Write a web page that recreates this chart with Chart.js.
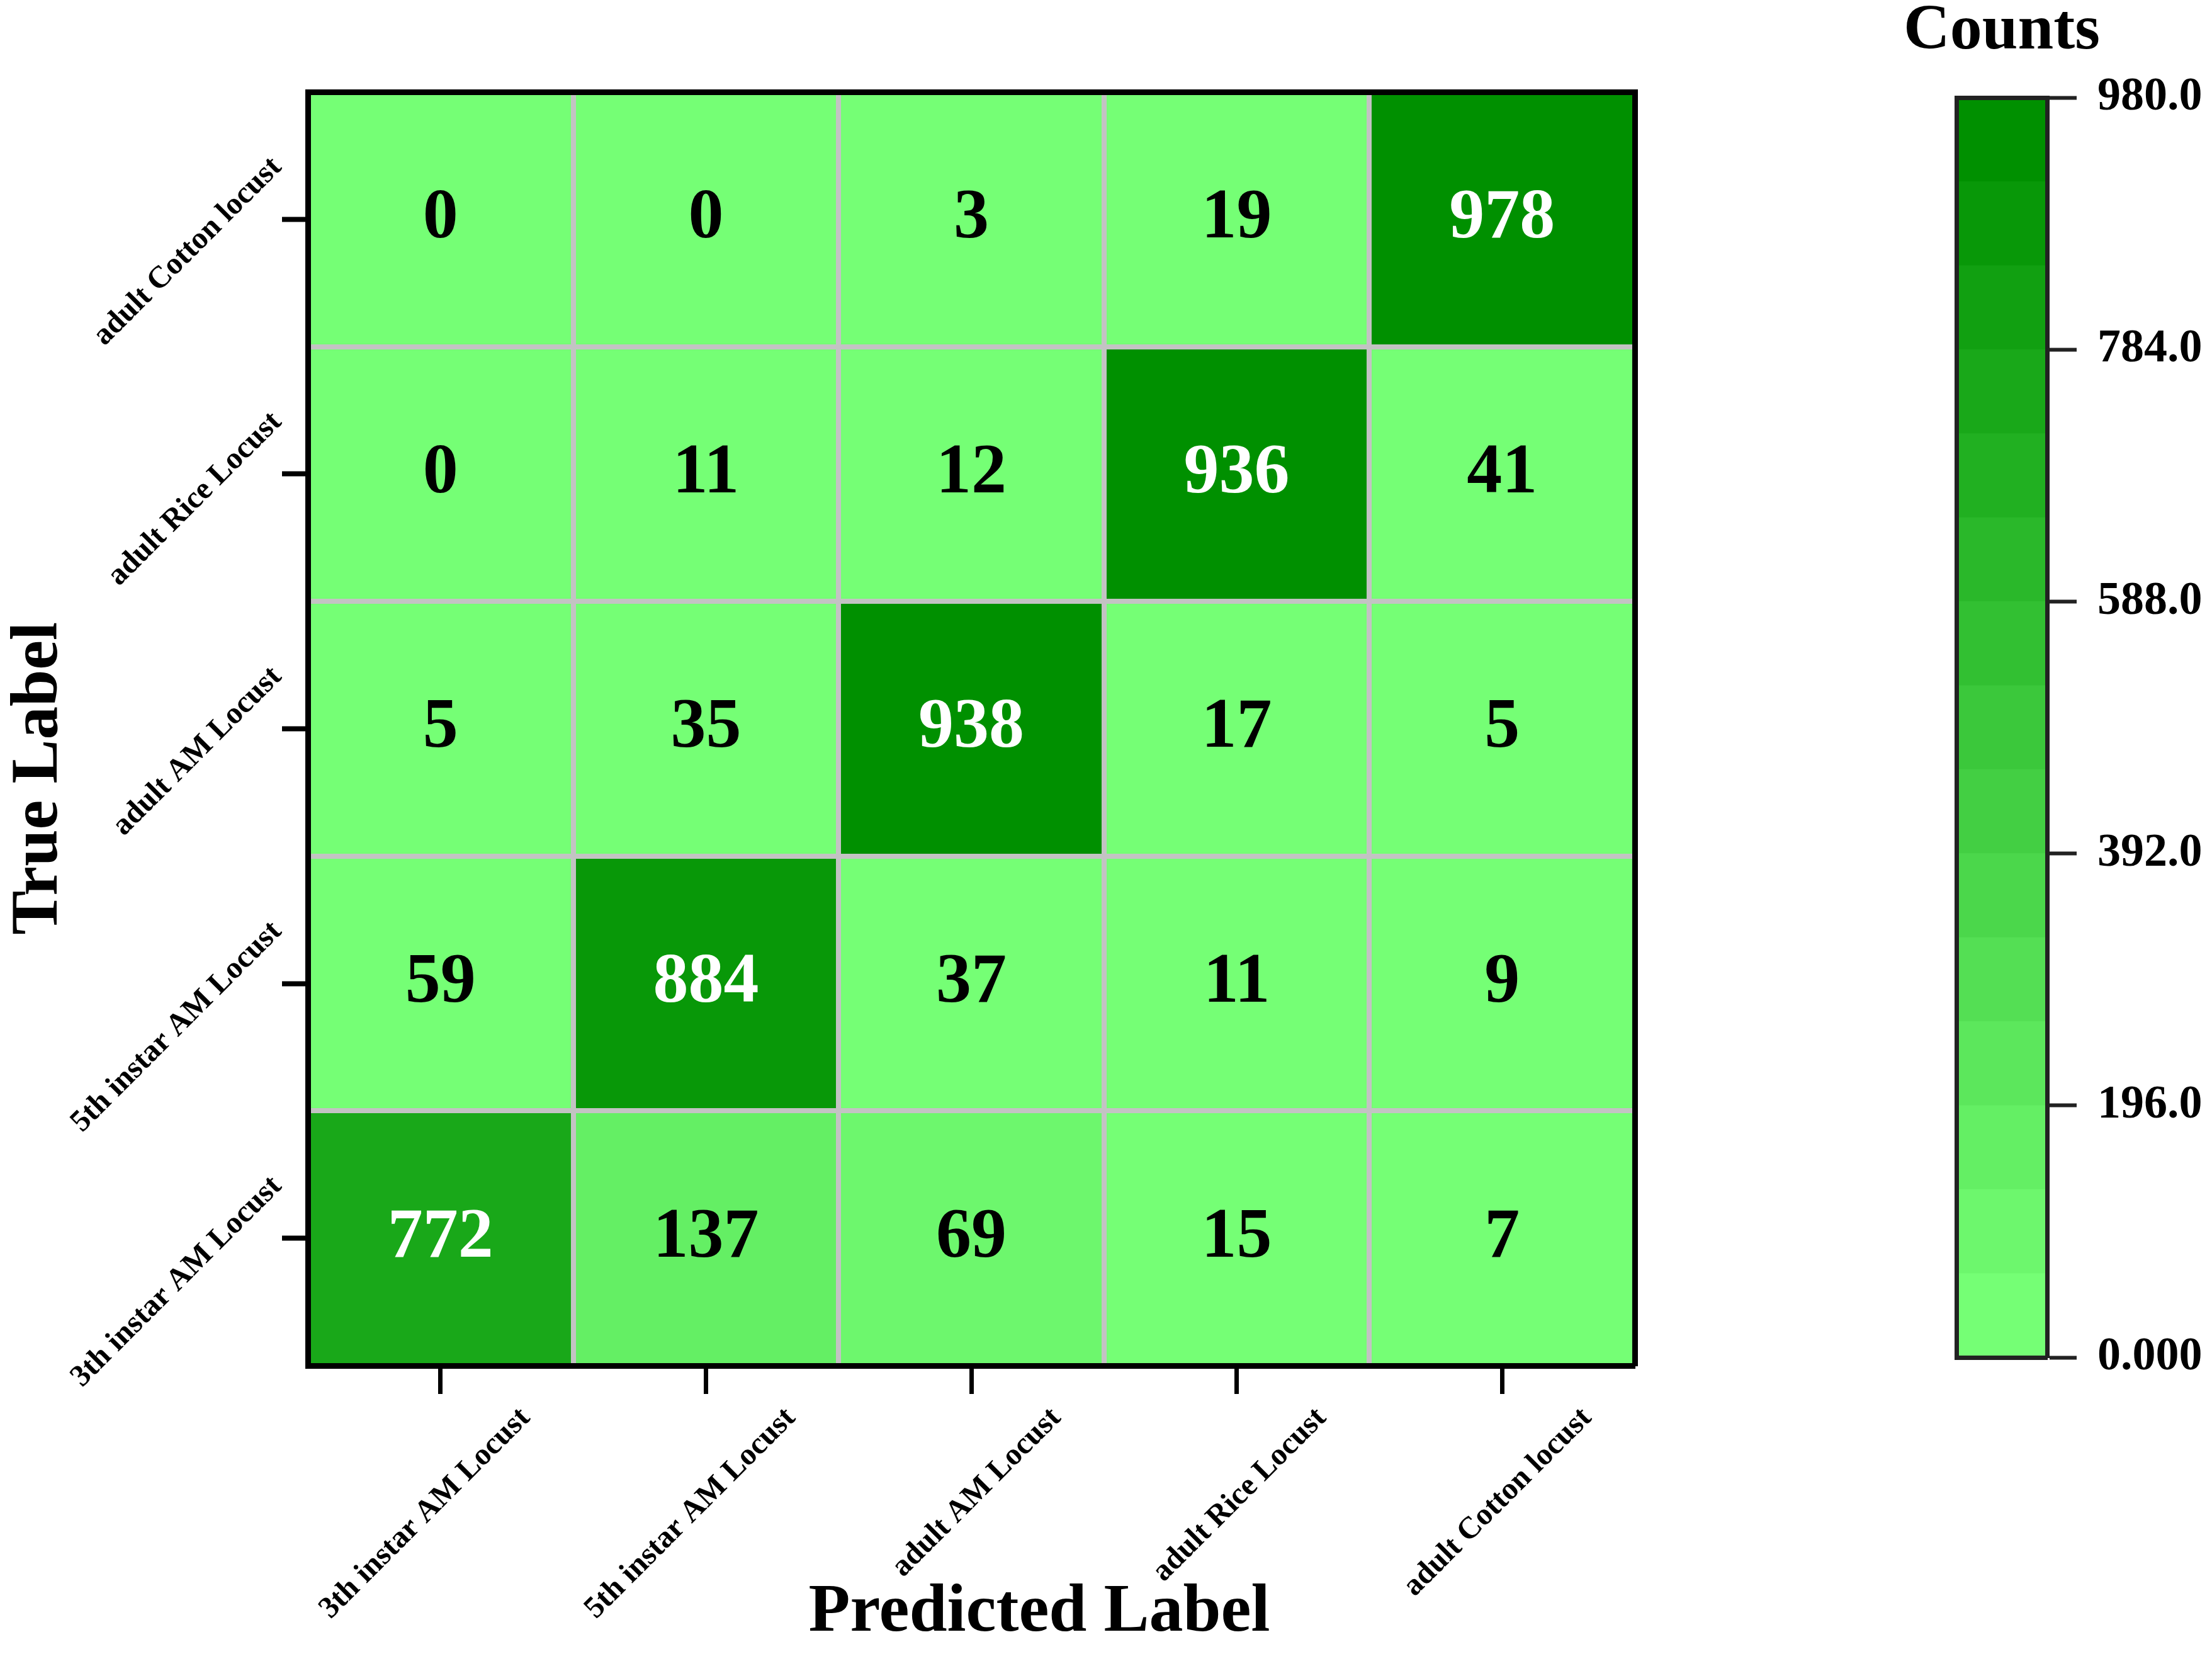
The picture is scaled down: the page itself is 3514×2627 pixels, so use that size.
<!DOCTYPE html>
<html>
<head>
<meta charset="utf-8">
<script src="https://cdn.jsdelivr.net/npm/chart.js@4.4.0/dist/chart.umd.min.js"></script>
<style>
  html, body { margin: 0; padding: 0; background: #fff; }
  #wrap { position: relative; width: 3514px; height: 2627px; }
  #matrix { position: absolute; left: 0; top: 0; }
  #colorbar { position: absolute; left: 2846px; top: 0; }
</style>
</head>
<body>
<div id="wrap">
  <canvas id="matrix" width="2846" height="2627"></canvas>
  <canvas id="colorbar" width="668" height="2627"></canvas>
</div>
<script>
// categories
var predictedLabels = ['3th instar AM Locust', '5th instar AM Locust', 'adult AM Locust', 'adult Rice Locust', 'adult Cotton locust'];
// true labels, bottom row first
var trueLabels = ['3th instar AM Locust', '5th instar AM Locust', 'adult AM Locust', 'adult Rice Locust', 'adult Cotton locust'];

// counts per true label, in predicted-label order
var row3thInstar = [772, 137, 69, 15, 7];
var row5thInstar = [59, 884, 37, 11, 9];
var rowAdultAM = [5, 35, 938, 17, 5];
var rowAdultRice = [0, 11, 12, 936, 41];
var rowAdultCotton = [0, 0, 3, 19, 978];
var countRows = [row3thInstar, row5thInstar, rowAdultAM, rowAdultRice, rowAdultCotton];

// colour bar
var colorbarTicks = [0, 196, 392, 588, 784, 980];
var countMax = 980;
var levelCount = 15;

var serif = 'Liberation Serif';
var lightGreen = [117, 255, 117];
var darkGreen = [0, 144, 0];
var gridGray = '#c3c3c3';

Chart.defaults.font.family = serif;
Chart.defaults.color = '#000';

function levelOf(v) {
    return Math.min(levelCount - 1, Math.floor(v / (countMax / levelCount)));
}
function levelColor(i) {
    var t = i / (levelCount - 1);
    var c = lightGreen.map(function(a, k) { return Math.round(a + (darkGreen[k] - a) * t); });
    return 'rgb(' + c.join(',') + ')';
}

// numbers in the cells
var cellLabels = {
    id: 'cellLabels',
    afterDatasetsDraw: function(chart) {
        var ctx = chart.ctx;
        ctx.save();
        ctx.font = 'bold 112px "' + serif + '"';
        ctx.textAlign = 'center';
        ctx.textBaseline = 'middle';
        chart.data.datasets.forEach(function(ds, r) {
            chart.getDatasetMeta(r).data.forEach(function(bar, c) {
                var v = ds.counts[c];
                var p = bar.getCenterPoint();
                ctx.fillStyle = v > countMax / 2 ? '#fff' : '#000';
                ctx.fillText(String(v), p.x, p.y);
            });
        });
        ctx.restore();
    }
};

var matrixDatasets = countRows.map(function(row, r) {
    return {
        label: trueLabels[r],
        data: row.map(function() { return [r, r + 1]; }),
        counts: row,
        backgroundColor: row.map(function(v) { return levelColor(levelOf(v)); }),
        borderWidth: 0,
        grouped: false,
        barPercentage: 1,
        categoryPercentage: 1
    };
});

var frameBorder = { display: true, color: '#000', width: 9, z: 2 };

new Chart(document.getElementById('matrix'), {
    type: 'bar',
    data: { labels: predictedLabels, datasets: matrixDatasets },
    plugins: [cellLabels],
    options: {
        responsive: false,
        devicePixelRatio: 1,
        animation: false,
        layout: { padding: { left: 0, right: 249, top: 146, bottom: 0 } },
        plugins: { legend: { display: false }, tooltip: { enabled: false } },
        scales: {
            x: {
                type: 'category',
                position: 'bottom',
                offset: true,
                grid: { offset: false, drawOnChartArea: false, tickLength: 45, tickWidth: 7, tickColor: '#000' },
                border: frameBorder,
                ticks: {
                    autoSkip: false,
                    minRotation: 45,
                    maxRotation: 45,
                    labelOffset: 135,
                    padding: 10,
                    font: { size: 49, weight: 'bold' }
                },
                title: {
                    display: true,
                    text: '        Predicted Label',
                    font: { size: 108, weight: 'bold' },
                    padding: 0
                },
                afterFit: function(s) { s.height = 458; }
            },
            xGrid: {
                type: 'category',
                position: 'bottom',
                offset: true,
                grid: { offset: true, color: gridGray, lineWidth: 8, drawTicks: false, z: 1 },
                border: { display: false },
                ticks: { display: false },
                afterFit: function(s) { s.height = 0; }
            },
            xTop: {
                type: 'category',
                position: 'top',
                offset: true,
                grid: { display: false, drawTicks: false },
                border: frameBorder,
                ticks: { display: false },
                afterFit: function(s) { s.height = 0; }
            },
            y: {
                type: 'linear',
                position: 'left',
                min: 0,
                max: 5,
                afterBuildTicks: function(s) {
                    s.ticks = trueLabels.map(function(l, i) { return { value: i + 0.5 }; });
                },
                ticks: {
                    autoSkip: false,
                    minRotation: 45,
                    maxRotation: 45,
                    labelOffset: -90,
                    padding: 8,
                    font: { size: 49, weight: 'bold' },
                    callback: function(v) { return trueLabels[Math.floor(v)]; }
                },
                grid: { drawOnChartArea: false, tickLength: 41, tickWidth: 8, tickColor: '#000' },
                border: frameBorder,
                title: {
                    display: true,
                    text: 'True Label      ',
                    font: { size: 105, weight: 'bold' },
                    padding: 0
                },
                afterFit: function(s) { s.width = 489; }
            },
            yGrid: {
                type: 'linear',
                position: 'left',
                min: 0,
                max: 5,
                ticks: { display: false, stepSize: 1 },
                grid: { color: gridGray, lineWidth: 8, drawTicks: false, z: 1 },
                border: { display: false },
                afterFit: function(s) { s.width = 0; }
            },
            yRight: {
                type: 'linear',
                position: 'right',
                min: 0,
                max: 5,
                ticks: { display: false },
                grid: { display: false, drawTicks: false },
                border: frameBorder,
                afterFit: function(s) { s.width = 0; }
            }
        }
    }
});

// colour bar: one stacked band per colour level
var bandSize = countMax / levelCount;
var bandDatasets = [];
for (var i = 0; i < levelCount; i++) {
    bandDatasets.push({
        data: [bandSize],
        backgroundColor: levelColor(i),
        borderWidth: 0,
        barPercentage: 1,
        categoryPercentage: 1
    });
}

var barBorder = { display: true, color: '#222', width: 7, z: 2 };

new Chart(document.getElementById('colorbar'), {
    type: 'bar',
    data: { labels: ['Counts'], datasets: bandDatasets },
    options: {
        responsive: false,
        devicePixelRatio: 1,
        animation: false,
        layout: { padding: 0 },
        plugins: {
            legend: { display: false },
            tooltip: { enabled: false },
            title: {
                display: true,
                text: 'Counts',
                font: { size: 102, weight: 'bold', lineHeight: 1 },
                padding: { top: 0, bottom: 53 }
            }
        },
        scales: {
            x: {
                type: 'category',
                stacked: true,
                offset: true,
                position: 'bottom',
                grid: { display: false, drawTicks: false },
                ticks: { display: false },
                border: barBorder,
                afterFit: function(s) { s.height = 471; }
            },
            xTop: {
                type: 'category',
                position: 'top',
                offset: true,
                grid: { display: false, drawTicks: false },
                ticks: { display: false },
                border: barBorder,
                afterFit: function(s) { s.height = 0; }
            },
            y: {
                type: 'linear',
                stacked: true,
                position: 'right',
                min: 0,
                max: countMax,
                afterBuildTicks: function(s) {
                    s.ticks = colorbarTicks.map(function(v) { return { value: v }; });
                },
                ticks: {
                    padding: 33,
                    font: { size: 74, weight: 'bold' },
                    callback: function(v) { return v === 0 ? '0.000' : v.toFixed(1); }
                },
                grid: { drawOnChartArea: false, tickLength: 47, tickWidth: 6, tickColor: '#222' },
                border: barBorder,
                afterFit: function(s) { s.width = 262; }
            },
            yLeft: {
                type: 'linear',
                position: 'left',
                min: 0,
                max: countMax,
                grid: { display: false, drawTicks: false },
                ticks: { display: false },
                border: barBorder,
                afterFit: function(s) { s.width = 262; }
            }
        }
    }
});
</script>
</body>
</html>
